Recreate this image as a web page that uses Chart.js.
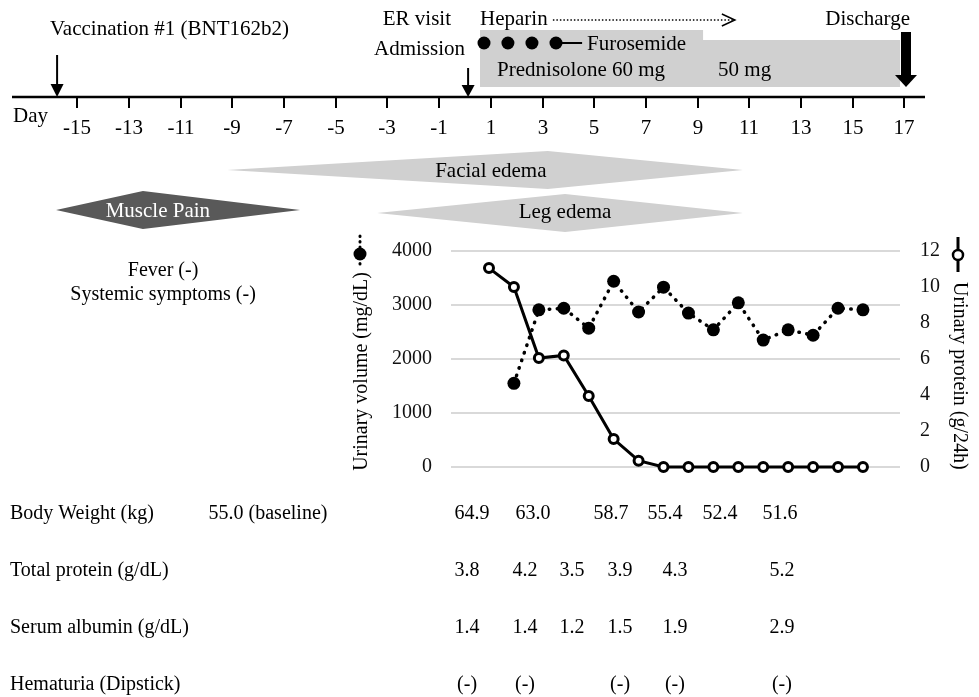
<!DOCTYPE html>
<html>
<head>
<meta charset="utf-8">
<script src="https://cdn.jsdelivr.net/npm/chart.js@4.4.1/dist/chart.umd.min.js"></script>
<style>
  html, body { margin: 0; padding: 0; background: #fff; }
  #wrap { width: 979px; height: 697px; }
</style>
</head>
<body>
<div id="wrap"><canvas id="timelineChart" width="979" height="697"></canvas></div>
<script>
// hospital days with urine data
const proteinDays = [1, 2, 3, 4, 5, 6, 7, 8, 9, 10, 11, 12, 13, 14, 15, 16];
const urinaryProtein = [11.05, 10.0, 6.05, 6.2, 3.95, 1.55, 0.35, 0, 0, 0, 0, 0, 0, 0, 0, 0];
const volumeDays = [2, 3, 4, 5, 6, 7, 8, 9, 10, 11, 12, 13, 14, 15, 16];
const urinaryVolume = [1550, 2910, 2940, 2570, 3440, 2870, 3330, 2850, 2540, 3040, 2350, 2540, 2440, 2940, 2910];

const dayTicks = [-15, -13, -11, -9, -7, -5, -3, -1, 1, 3, 5, 7, 9, 11, 13, 15, 17];

// lab table
const labRows = ["Body Weight (kg)", "Total protein (g/dL)", "Serum albumin (g/dL)", "Hematuria (Dipstick)"];
const bodyWeight = ["64.9", "63.0", "58.7", "55.4", "52.4", "51.6"];
const totalProtein = ["3.8", "4.2", "3.5", "3.9", "4.3", "5.2"];
const serumAlbumin = ["1.4", "1.4", "1.2", "1.5", "1.9", "2.9"];
const hematuria = ["(-)", "(-)", "(-)", "(-)", "(-)"];

// where the table columns sit, in day units
const weightCols = [0.27, 2.63, 5.65, 7.74, 9.86, 12.19];
const labCols = [0.08, 2.32, 4.14, 6.0, 8.12, 12.26];
const hematuriaCols = [0.08, 2.32, 6.0, 8.12, 12.26];

const SERIF = "'Liberation Serif', 'Times New Roman', serif";

const timelinePlugin = {
    id: "timeline",
    afterDraw(chart) {
        const ctx = chart.ctx;
        const day = chart.scales.day;
        const px = (d) => day.getPixelForValue(d);

        ctx.save();
        ctx.fillStyle = "#000";
        ctx.strokeStyle = "#000";
        ctx.textBaseline = "alphabetic";

        const text = (s, x, y, align, size, color) => {
            ctx.font = (size || 21) + "px " + SERIF;
            ctx.textAlign = align || "left";
            ctx.fillStyle = color || "#000";
            ctx.fillText(s, x, y);
        };

        // prednisolone box
        ctx.fillStyle = "#d0d0d0";
        ctx.beginPath();
        ctx.moveTo(px(0.58), 30);
        ctx.lineTo(px(9.21), 30);
        ctx.lineTo(px(9.21), 40);
        ctx.lineTo(px(16.83), 40);
        ctx.lineTo(px(16.83), 87);
        ctx.lineTo(px(0.58), 87);
        ctx.closePath();
        ctx.fill();

        // day axis
        ctx.lineWidth = 2.5;
        ctx.beginPath();
        ctx.moveTo(12, 97);
        ctx.lineTo(925, 97);
        ctx.stroke();
        ctx.lineWidth = 2;
        dayTicks.forEach((d) => {
            const x = Math.round(px(d));
            ctx.beginPath();
            ctx.moveTo(x, 97);
            ctx.lineTo(x, 108);
            ctx.stroke();
            text(String(d), x, 134, "center");
        });
        text("Day", 13, 122, "left");

        // thin arrows
        const arrow = (x, y0, headTop, y1) => {
            ctx.fillStyle = "#000";
            ctx.lineWidth = 2;
            ctx.beginPath();
            ctx.moveTo(x, y0);
            ctx.lineTo(x, headTop + 2);
            ctx.stroke();
            ctx.beginPath();
            ctx.moveTo(x - 6.5, headTop);
            ctx.lineTo(x + 6.5, headTop);
            ctx.lineTo(x, y1);
            ctx.closePath();
            ctx.fill();
        };
        arrow(px(-15.78), 55, 84, 97);
        arrow(px(0.12), 68, 85, 97);

        // discharge arrow
        const xd = px(17.06);
        ctx.fillStyle = "#000";
        ctx.fillRect(xd - 5, 32, 10, 44);
        ctx.beginPath();
        ctx.moveTo(xd - 11, 75);
        ctx.lineTo(xd + 11, 75);
        ctx.lineTo(xd, 87);
        ctx.closePath();
        ctx.fill();

        // top labels
        text("Vaccination #1 (BNT162b2)", 50, 35);
        text("ER visit", px(-0.54), 25, "right");
        text("Admission", px(0.0), 55, "right");
        text("Heparin", px(0.58), 25);
        text("Discharge", 910, 25, "right");
        text("Furosemide", px(4.72), 50);
        text("Prednisolone 60 mg", px(1.24), 76);
        text("50 mg", px(9.79), 76);

        // heparin dotted arrow
        ctx.strokeStyle = "#000";
        ctx.lineWidth = 1.5;
        ctx.setLineDash([1.5, 2]);
        ctx.beginPath();
        ctx.moveTo(px(3.4), 20);
        ctx.lineTo(px(10.44) - 2, 20);
        ctx.stroke();
        ctx.setLineDash([]);
        ctx.beginPath();
        ctx.moveTo(px(10.44) - 13, 14);
        ctx.lineTo(px(10.44), 20);
        ctx.lineTo(px(10.44) - 13, 26);
        ctx.stroke();

        // furosemide doses
        const furoDots = [0.735, 1.66, 2.59, 3.52];
        ctx.fillStyle = "#000";
        furoDots.forEach((d) => {
            ctx.beginPath();
            ctx.arc(px(d), 43, 6.5, 0, Math.PI * 2);
            ctx.fill();
        });
        ctx.lineWidth = 2;
        ctx.beginPath();
        ctx.moveTo(px(3.52), 43);
        ctx.lineTo(px(4.53), 43);
        ctx.stroke();

        // symptom shapes
        const kite = (a, peak, b, top, bot, color) => {
            const mid = (top + bot) / 2;
            ctx.fillStyle = color;
            ctx.beginPath();
            ctx.moveTo(px(a), mid);
            ctx.lineTo(px(peak), top);
            ctx.lineTo(px(b), mid);
            ctx.lineTo(px(peak), bot);
            ctx.closePath();
            ctx.fill();
        };
        kite(-9.2, 3.2, 10.75, 151, 189, "#d0d0d0");
        kite(-15.82, -12.46, -6.38, 191, 229, "#595959");
        kite(-3.4, 3.87, 10.75, 194, 232, "#d0d0d0");
        text("Facial edema", px(1.0), 177, "center");
        text("Muscle Pain", px(-11.88), 217, "center", 21, "#fff");
        text("Leg edema", px(3.87), 218, "center");

        text("Fever (-)", px(-11.68), 276, "center", 20);
        text("Systemic symptoms (-)", px(-11.68), 300, "center", 20);

        // axis titles with their line markers
        ctx.font = "20px " + SERIF;
        ctx.fillStyle = "#000";
        ctx.save();
        ctx.translate(362, 272);
        ctx.rotate(-Math.PI / 2);
        ctx.textAlign = "right";
        ctx.textBaseline = "middle";
        ctx.fillText("Urinary volume (mg/dL)", 0, 0);
        ctx.restore();

        ctx.lineWidth = 3;
        ctx.lineCap = "round";
        ctx.setLineDash([0.5, 5]);
        ctx.beginPath();
        ctx.moveTo(360, 236);
        ctx.lineTo(360, 266);
        ctx.stroke();
        ctx.setLineDash([]);
        ctx.lineCap = "butt";
        ctx.beginPath();
        ctx.arc(360, 254, 6.5, 0, Math.PI * 2);
        ctx.fill();

        ctx.save();
        ctx.translate(959, 282);
        ctx.rotate(Math.PI / 2);
        ctx.textAlign = "left";
        ctx.textBaseline = "middle";
        ctx.fillText("Urinary protein (g/24h)", 0, 0);
        ctx.restore();

        ctx.lineWidth = 3;
        ctx.beginPath();
        ctx.moveTo(958, 237);
        ctx.lineTo(958, 272);
        ctx.stroke();
        ctx.fillStyle = "#fff";
        ctx.lineWidth = 2.5;
        ctx.beginPath();
        ctx.arc(958, 255, 5, 0, Math.PI * 2);
        ctx.fill();
        ctx.stroke();

        // lab table
        const rowY = [519, 576, 633, 690];
        labRows.forEach((r, i) => text(r, 10, rowY[i], "left", 20));
        text("55.0 (baseline)", 268, rowY[0], "center", 20);
        bodyWeight.forEach((v, i) => text(v, px(weightCols[i]), rowY[0], "center", 20));
        totalProtein.forEach((v, i) => text(v, px(labCols[i]), rowY[1], "center", 20));
        serumAlbumin.forEach((v, i) => text(v, px(labCols[i]), rowY[2], "center", 20));
        hematuria.forEach((v, i) => text(v, px(hematuriaCols[i]), rowY[3], "center", 20));

        ctx.restore();
    }
};

const ctx = document.getElementById("timelineChart");

const data = {
    datasets: [
        {
            label: "Urinary protein (g/24h)",
            data: proteinDays.map((d, i) => ({ x: d, y: urinaryProtein[i] })),
            xAxisID: "x",
            yAxisID: "yR",
            borderColor: "#000",
            borderWidth: 3,
            pointRadius: 4.5,
            pointBorderWidth: 3,
            pointBackgroundColor: "#fff",
            pointBorderColor: "#000",
            tension: 0,
            clip: false,
        },
        {
            label: "Urinary volume (mg/dL)",
            data: volumeDays.map((d, i) => ({ x: d, y: urinaryVolume[i] })),
            xAxisID: "x",
            yAxisID: "yL",
            borderColor: "#000",
            borderWidth: 3.5,
            borderDash: [0.5, 7.5],
            borderCapStyle: "round",
            pointRadius: 6.5,
            pointBorderWidth: 0,
            pointBackgroundColor: "#000",
            pointBorderColor: "#000",
            tension: 0,
            clip: false,
        },
    ],
};

const tickFont = { family: SERIF, size: 20 };

const config = {
    type: "line",
    data: data,
    options: {
        responsive: false,
        animation: false,
        devicePixelRatio: 1,
        layout: { padding: { left: 380, right: 0, top: 251, bottom: 230 } },
        plugins: { legend: { display: false }, tooltip: { enabled: false } },
        scales: {
            x: { type: "linear", min: -0.524, max: 17.486, display: false },
            day: { type: "linear", axis: "x", position: "bottom", min: -0.5416, max: 16.828, display: false },
            yL: {
                position: "left",
                min: 0,
                max: 4000,
                ticks: { stepSize: 1000, color: "#111", font: tickFont, padding: 19, callback: (v) => String(v) },
                grid: { color: "#d9d9d9", lineWidth: 2, drawTicks: false },
                border: { display: false },
                afterFit: (s) => { s.width = 71; },
            },
            yR: {
                position: "right",
                min: 0,
                max: 12,
                ticks: { stepSize: 2, color: "#111", font: tickFont, padding: 20, callback: (v) => String(v) },
                grid: { display: false, drawTicks: false },
                border: { display: false },
                afterFit: (s) => { s.width = 79; },
            },
        },
    },
    plugins: [timelinePlugin],
};

new Chart(ctx, config);
</script>
</body>
</html>
